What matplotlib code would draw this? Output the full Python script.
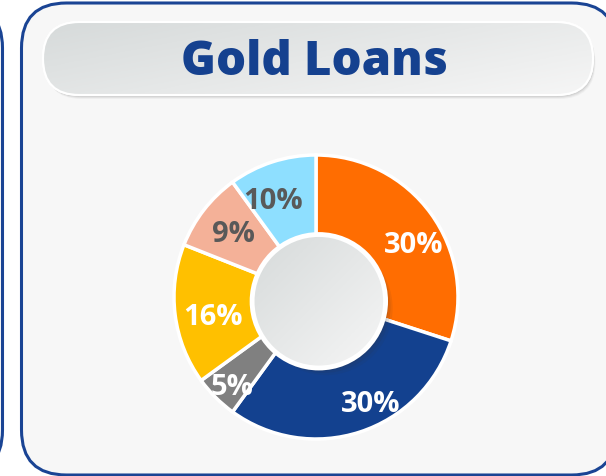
import matplotlib
matplotlib.use('Agg')
from matplotlib import pyplot as plt
from matplotlib.patches import FancyBboxPatch, Circle
from matplotlib.colors import LinearSegmentedColormap
import numpy as np

# data
categories = ['A', 'B', 'C', 'D', 'E', 'F']
shares = [30, 30, 5, 16, 9, 10]
colors = ['#ff6d01', '#13418f', '#808080', '#ffc000', '#f4b198', '#8edfff']
label_colors = ['white', 'white', 'white', 'white', '#595959', '#595959']
title = 'Gold Loans'

# label placement tweaks (angle shift in degrees, radius as fraction of R)
label_shift = [-8, 9, 2, 4, 1, 6]
label_rad = [0.78, 0.85, 0.87, 0.74, 0.73, 0.74]

W, H = 606, 476
BLUE = '#1a4494'

fig = plt.figure(figsize=(W / 100, H / 100), dpi=100)
fig.set_facecolor('white')

# background axes in pixel units (y down)
bg = fig.add_axes([0, 0, 1, 1])
bg.set_xlim(0, W)
bg.set_ylim(H, 0)
bg.axis('off')

# neighbour panel (only its right edge shows)
bg.add_patch(FancyBboxPatch((-400, 3), 402.5, 472, boxstyle='round,pad=0,rounding_size=45',
                            facecolor='#f7f7f7', edgecolor=BLUE, linewidth=2.2))
# main panel
bg.add_patch(FancyBboxPatch((21.5, 3), 595, 472, boxstyle='round,pad=0,rounding_size=45',
                            facecolor='#f7f7f7', edgecolor=BLUE, linewidth=2.2))

# title pill with shadow and gradient
px0, py0, px1, py1 = 43, 22, 593, 95
for off, a in [(4, 0.08), (3, 0.12), (2, 0.16)]:
    bg.add_patch(FancyBboxPatch((px0 + off * 0.6, py0 + off), px1 - px0, py1 - py0,
                                boxstyle='round,pad=0,rounding_size=36.5',
                                facecolor='#888888', edgecolor='none', alpha=a))
pill = FancyBboxPatch((px0, py0), px1 - px0, py1 - py0, boxstyle='round,pad=0,rounding_size=36.5',
                      facecolor='#e6e8e8', edgecolor='white', linewidth=1.5, zorder=2)
bg.add_patch(pill)
gcmap = LinearSegmentedColormap.from_list('g', ['#d6dada', '#f6f6f6'])
xx, yy = np.meshgrid(np.linspace(0, 1, 200), np.linspace(0, 1, 60))
im = bg.imshow(xx * 0.6 + yy * 0.4, cmap=gcmap, extent=(px0, px1, py1, py0),
               origin='upper', aspect='auto', zorder=2.1)
im.set_clip_path(pill)
bg.add_patch(FancyBboxPatch((px0, py0), px1 - px0, py1 - py0, boxstyle='round,pad=0,rounding_size=36.5',
                            facecolor='none', edgecolor='white', linewidth=1.5, zorder=2.2))
bg.text((px0 + px1) / 2 - 4, 63, title, ha='center', va='center', fontsize=34,
        fontweight='heavy', family='Open Sans', color='#15418f', zorder=3)

# donut
cx, cy, R = 316, 297, 142
ax = fig.add_axes([(cx - R) / W, (H - cy - R) / H, 2 * R / W, 2 * R / H])
wedges, texts, pcts = ax.pie(shares, colors=colors, startangle=90, counterclock=False, radius=1,
                             wedgeprops=dict(width=0.6, edgecolor='white', linewidth=2.5),
                             autopct=lambda p: f'{p:.0f}%', pctdistance=0.77)
for t, w, c, s, r in zip(pcts, wedges, label_colors, label_shift, label_rad):
    ang = np.deg2rad((w.theta1 + w.theta2) / 2 + s)
    t.set_position((r * np.cos(ang), r * np.sin(ang)))
    t.set_color(c)
    t.set_fontsize(21)
    t.set_fontweight('bold')
    t.set_family('Open Sans')
    t.set_zorder(6)

# centre disc
ccx, ccy, cr = 0.02, -0.03, 0.47
for off, a in [(0.05, 0.07), (0.035, 0.1), (0.02, 0.13)]:
    ax.add_patch(Circle((ccx + off, ccy - off), cr, facecolor='#333333', edgecolor='none', alpha=a, zorder=3))
disc = Circle((ccx, ccy), cr, facecolor='#e8eaea', edgecolor='none', zorder=4)
ax.add_patch(disc)
xx, yy = np.meshgrid(np.linspace(0, 1, 100), np.linspace(0, 1, 100))
im2 = ax.imshow(xx * 0.5 + yy * 0.5, cmap=gcmap, extent=(ccx - cr, ccx + cr, ccy - cr, ccy + cr),
                origin='upper', zorder=4.1)
im2.set_clip_path(disc)
ax.add_patch(Circle((ccx, ccy), cr, facecolor='none', edgecolor='white', linewidth=3.5, zorder=4.2))
ax.set_xlim(-1.0, 1.0)
ax.set_ylim(-1.0, 1.0)
ax.axis('off')

plt.savefig('out.png', dpi=100)
plt.close('all')
